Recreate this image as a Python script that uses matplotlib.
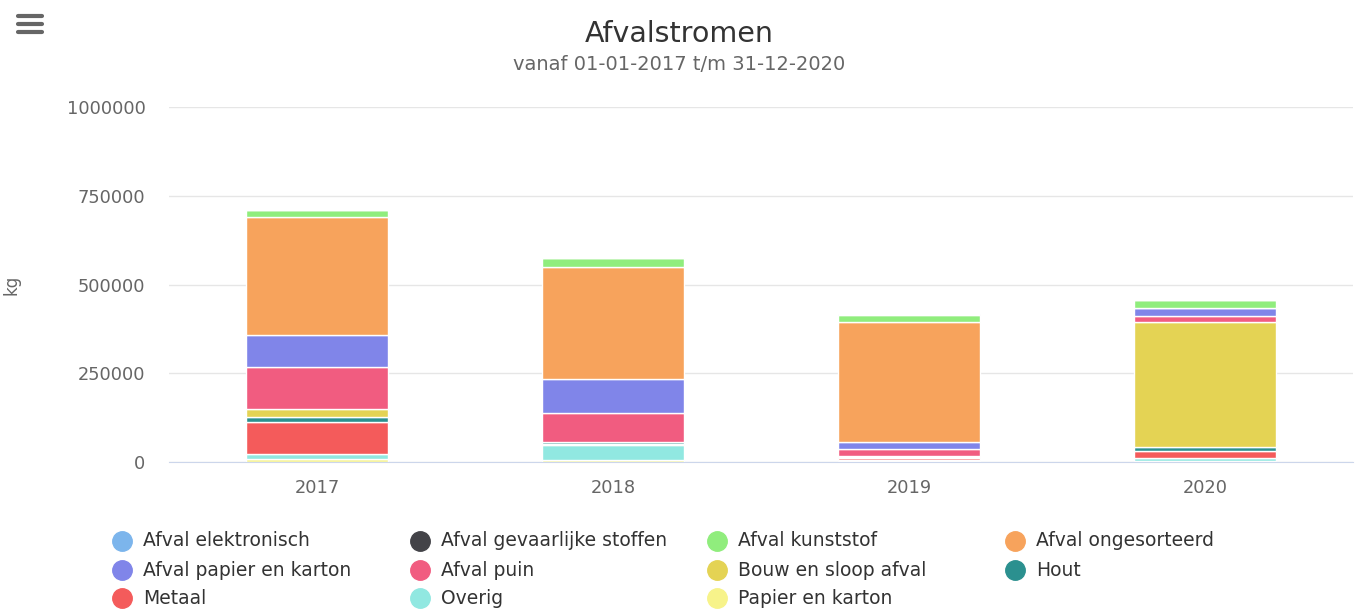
import matplotlib
matplotlib.use("Agg")
import matplotlib.pyplot as plt
from matplotlib.lines import Line2D
import numpy as np

# Data (kg)
years = ["2017", "2018", "2019", "2020"]
series_names = [
    "Afval elektronisch", "Afval gevaarlijke stoffen", "Afval kunststof",
    "Afval ongesorteerd", "Afval papier en karton", "Afval puin",
    "Bouw en sloop afval", "Hout", "Metaal", "Overig", "Papier en karton",
]
elektronisch = [500, 300, 300, 300]
gevaarlijk = [500, 300, 300, 300]
kunststof = [19000, 24500, 19700, 20300]
ongesorteerd = [334000, 316000, 338000, 0]
papier_afval = [90000, 95000, 19700, 22500]
puin = [117000, 82000, 22500, 18600]
bouw_sloop = [22000, 2000, 500, 352000]
hout = [14000, 5000, 5000, 9900]
metaal = [91000, 1000, 4000, 22000]
overig = [13500, 44000, 3000, 8500]
papier_karton = [9000, 5000, 3000, 1500]

colors = ["#7cb5ec", "#434348", "#90ed7d", "#f7a35c", "#8085e9", "#f15c80",
          "#e4d354", "#2b908f", "#f45b5b", "#91e8e1", "#f7f38a"]

series = [elektronisch, gevaarlijk, kunststof, ongesorteerd, papier_afval, puin,
          bouw_sloop, hout, metaal, overig, papier_karton]

fig = plt.figure(figsize=(13.59, 6.09), dpi=100)
ax = fig.add_axes([169 / 1359, 147 / 609, 1184 / 1359, 355 / 609])

x = np.arange(len(years))
bottom = np.zeros(len(years))
# Highcharts stacks the first series on top, so draw from the last one up
for name, vals, col in reversed(list(zip(series_names, series, colors))):
    vals = np.array(vals, dtype=float)
    ax.bar(x, vals, width=0.48, bottom=bottom, color=col,
           edgecolor="white", linewidth=1, zorder=3)
    bottom += vals

ax.set_xlim(-0.5, len(years) - 0.5)
ax.set_ylim(0, 1000000)
ax.set_yticks([0, 250000, 500000, 750000, 1000000])
ax.set_yticklabels(["0", "250000", "500000", "750000", "1000000"])
ax.set_xticks(x)
ax.set_xticklabels(years)
ax.yaxis.grid(True, color="#e6e6e6", linewidth=1, zorder=0)
ax.tick_params(axis="both", length=0, labelsize=12.8, colors="#666666")
ax.tick_params(axis="x", pad=12)
ax.tick_params(axis="y", pad=17)
for s in ["top", "right", "left"]:
    ax.spines[s].set_visible(False)
ax.spines["bottom"].set_color("#ccd6eb")
ax.spines["bottom"].set_zorder(4)

fig.text(0.5, 1 - 34 / 609, "Afvalstromen", ha="center", va="center",
         fontsize=20.5, color="#333333")
fig.text(0.5, 1 - 64 / 609, "vanaf 01-01-2017 t/m 31-12-2020", ha="center",
         va="center", fontsize=14, color="#666666")
fig.text(12 / 1359, 1 - 285 / 609, "kg", rotation=90, ha="center", va="center",
         fontsize=12, color="#666666")

# hamburger menu icon
for yy in [15.5, 23.5, 31.5]:
    fig.add_artist(Line2D([18 / 1359, 42 / 1359], [1 - yy / 609] * 2,
                          color="#666666", linewidth=3, solid_capstyle="round"))

# legend, 4 columns, row-wise
col_x = [122, 420, 717, 1015]
row_y = [541, 570, 598]
for i, (name, col) in enumerate(zip(series_names, colors)):
    cx = col_x[i % 4]
    cy = row_y[i // 4]
    fig.add_artist(Line2D([cx / 1359], [1 - cy / 609], marker="o", markersize=14,
                          markerfacecolor=col, markeredgecolor=col, linestyle=""))
    fig.text((cx + 21) / 1359, 1 - cy / 609, name, ha="left", va="center",
             fontsize=13.5, color="#333333")

fig.savefig("out.png", dpi=100, facecolor="white")
